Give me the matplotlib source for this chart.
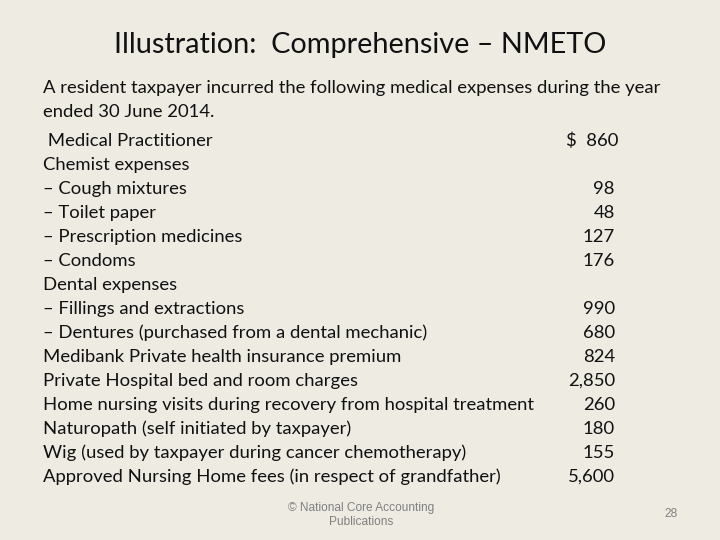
import matplotlib.pyplot as plt

title = "Illustration:  Comprehensive \u2013 NMETO"
intro = ["A resident taxpayer incurred the following medical expenses during the year",
         "ended 30 June 2014."]
items = [" Medical Practitioner", "Chemist expenses", "\u2013 Cough mixtures",
         "\u2013 Toilet paper", "\u2013 Prescription medicines", "\u2013 Condoms",
         "Dental expenses", "\u2013 Fillings and extractions",
         "\u2013 Dentures (purchased from a dental mechanic)",
         "Medibank Private health insurance premium",
         "Private Hospital bed and room charges",
         "Home nursing visits during recovery from hospital treatment",
         "Naturopath (self initiated by taxpayer)",
         "Wig (used by taxpayer during cancer chemotherapy)",
         "Approved Nursing Home fees (in respect of grandfather)"]
amounts = [860, None, 98, 48, 127, 176, None, 990, 680, 824, 2850, 260, 180, 155, 5600]
footer = "\u00a9 National Core Accounting\nPublications"
page = "28"

bg = "#eeebe3"
font = "Lato"
fs = 13.3

fig = plt.figure(figsize=(7.2, 5.4), dpi=100, facecolor=bg)
ax = fig.add_axes([0, 0, 1, 1])
ax.set_xlim(0, 720)
ax.set_ylim(540, 0)
ax.axis("off")

ax.text(360, 45, title, ha="center", va="center", fontsize=20.8, family=font, color="#111111")

y = 88
for line in intro:
    ax.text(43, y, line, ha="left", va="center", fontsize=fs, family=font, color="#111111")
    y += 24

y = 141
for i, (lab, val) in enumerate(zip(items, amounts)):
    ax.text(43, y, lab, ha="left", va="center", fontsize=fs, family=font, color="#111111")
    if val is not None:
        s = f"{val:,}"
        if i == 0:
            ax.text(618, y, "$  " + s, ha="right", va="center", fontsize=fs, family=font, color="#111111")
        else:
            ax.text(615, y, s, ha="right", va="center", fontsize=fs, family=font, color="#111111")
    y += 24

ax.text(361, 515, footer, ha="center", va="center", fontsize=8.6, family="Liberation Sans",
        color="#808080", linespacing=1.15)
ax.text(671, 514, page, ha="center", va="center", fontsize=8.6, family="Liberation Sans", color="#808080")

fig.savefig("out.png", dpi=100, facecolor=bg)
